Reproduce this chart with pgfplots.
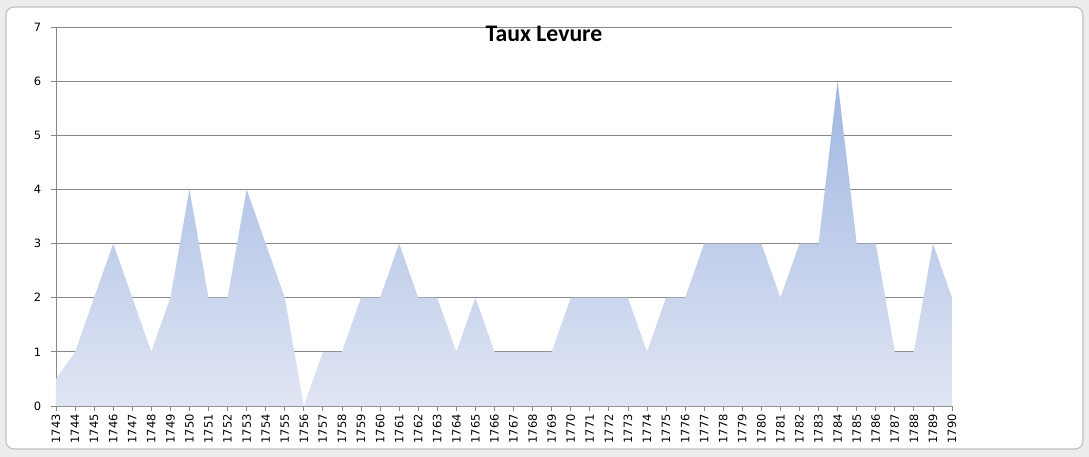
\documentclass[border=0pt]{standalone}
\usepackage{pgfplots}
\pgfplotsset{compat=1.18}
\usepackage{fontspec}
\setmainfont{DejaVu Sans}
\newfontfamily\titlefont{Carlito}
\definecolor{gridgray}{RGB}{134,134,134}
\definecolor{axgray}{RGB}{134,134,134}
\definecolor{areatop}{RGB}{160,183,226}
\definecolor{areabot}{RGB}{224,229,243}
\definecolor{framegray}{RGB}{190,190,190}
\definecolor{outbg}{RGB}{236,236,236}
\begin{document}
\begin{tikzpicture}
% page bounds (1 px = 0.75pt), axis lower-left at (0,0)
\fill[outbg] (-42pt,-38.25pt) rectangle (774.75pt,304.5pt);
\filldraw[fill=white, draw=framegray, line width=0.8pt, rounded corners=6pt] (-37.5pt,-32.25pt) rectangle (770.25pt,299.25pt);
\begin{axis}[
  at={(0,0)}, anchor=south west,
  scale only axis,
  width=672pt, height=284.25pt,
  xmin=0, xmax=47, ymin=0, ymax=7,
  axis lines*=left,
  axis line style={axgray, line width=0.6pt},
  ytick={0,...,7},
  xtick={0,...,47},
  xticklabels={1743,1744,1745,1746,1747,1748,1749,1750,1751,1752,1753,1754,1755,1756,1757,1758,1759,1760,1761,1762,1763,1764,1765,1766,1767,1768,1769,1770,1771,1772,1773,1774,1775,1776,1777,1778,1779,1780,1781,1782,1783,1784,1785,1786,1787,1788,1789,1790},
  xticklabel style={rotate=90, anchor=east, font=\fontsize{8.6pt}{9pt}\selectfont, inner sep=1pt},
  yticklabel style={font=\fontsize{8.6pt}{9pt}\selectfont},
  /pgf/number format/assume math mode=true,
  yticklabel shift=4pt,
  xticklabel shift=1.5pt,
  tick align=outside,
  major tick length=3.5pt,
  tick style={axgray, line width=0.6pt},
  ymajorgrids,
  grid style={gridgray, line width=0.6pt},
  clip=false,
]
\addplot[draw=none, shade, top color=areatop, bottom color=areabot] coordinates {
(0,0.5)(1,1)(2,2)(3,3)(4,2)(5,1)(6,2)(7,4)(8,2)(9,2)(10,4)(11,3)(12,2)(13,0)(14,1)(15,1)(16,2)(17,2)(18,3)(19,2)(20,2)(21,1)(22,2)(23,1)(24,1)(25,1)(26,1)(27,2)(28,2)(29,2)(30,2)(31,1)(32,2)(33,2)(34,3)(35,3)(36,3)(37,3)(38,2)(39,3)(40,3)(41,6)(42,3)(43,3)(44,1)(45,1)(46,3)(47,2)
} \closedcycle;
\node[font=\titlefont\bfseries\fontsize{17.8pt}{20pt}\selectfont, anchor=base, inner sep=0pt] at (axis cs:25.6,6.74) {Taux Levure};
\end{axis}
\end{tikzpicture}
\end{document}
